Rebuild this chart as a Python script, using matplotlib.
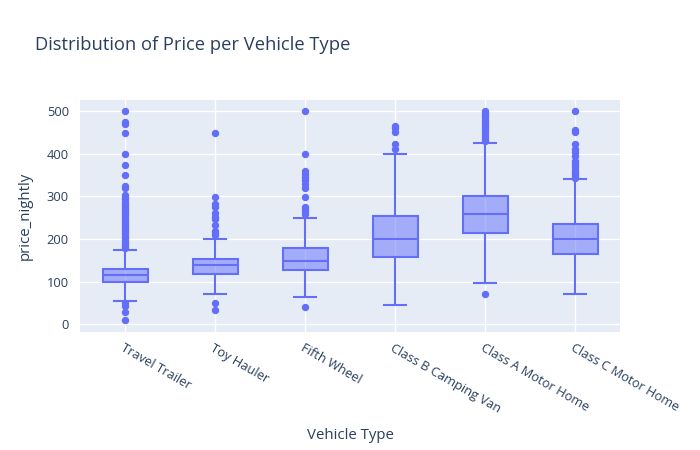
import matplotlib
matplotlib.use("Agg")
import matplotlib.pyplot as plt

plt.rcParams['font.family'] = ['Open Sans', 'DejaVu Sans']

# box statistics
vehicle_types = ["Travel Trailer", "Toy Hauler", "Fifth Wheel",
                 "Class B Camping Van", "Class A Motor Home", "Class C Motor Home"]
q1 = [99, 117, 127, 157, 215, 165]
median = [115, 139, 149, 200, 259, 199]
q3 = [130, 154, 180, 255, 301, 236]
whisker_low = [55, 70, 65, 45, 97, 70]
whisker_high = [175, 199, 249, 399, 425, 340]
outliers = [
    [500, 475, 469, 449, 399, 374, 349, 325, 319, 303, 298, 293, 288, 283, 278,
     273, 268, 263, 258, 253, 248, 243, 238, 233, 228, 223, 218, 213, 208, 203,
     198, 193, 188, 183, 178, 50, 44, 30, 9],
    [449, 299, 281, 276, 260, 252, 247, 233, 219, 213, 209, 50, 33],
    [500, 400, 359, 353, 346, 338, 330, 320, 299, 276, 270, 265, 259, 40],
    [465, 460, 450, 424, 411],
    [500, 495, 490, 485, 480, 475, 470, 465, 460, 455, 450, 445, 440, 435, 430, 70],
    [500, 455, 450, 424, 411, 403, 395, 383, 378, 373, 368, 363, 358, 353, 348,
     342],
]

blue = "#636efa"
text_col = "#2a3f5f"

stats = []
for i, name in enumerate(vehicle_types):
    stats.append(dict(label=name, q1=q1[i], med=median[i], q3=q3[i],
                      whislo=whisker_low[i], whishi=whisker_high[i],
                      fliers=outliers[i]))

fig = plt.figure(figsize=(7, 4.5), dpi=100)
ax = fig.add_axes([80 / 700, 118 / 450, 540 / 700, 232 / 450])
ax.set_facecolor("#E5ECF6")

ax.bxp(stats, positions=range(len(stats)), widths=0.5, capwidths=0.25,
       patch_artist=True,
       boxprops=dict(facecolor=(99 / 255, 110 / 255, 250 / 255, 0.5), edgecolor=blue, linewidth=1.5),
       medianprops=dict(color=blue, linewidth=1.5),
       whiskerprops=dict(color=blue, linewidth=1.5),
       capprops=dict(color=blue, linewidth=1.5),
       flierprops=dict(marker='o', markerfacecolor=blue, markeredgecolor=blue,
                       markersize=4.3, linestyle='none'))

ax.set_xlim(-0.5, 5.5)
ax.set_ylim(-18, 526)
ax.set_yticks([0, 100, 200, 300, 400, 500])
ax.grid(True, color="white", linewidth=1)
ax.set_axisbelow(True)
for s in ax.spines.values():
    s.set_visible(False)
ax.tick_params(length=0, colors=text_col, labelsize=9.3)
ax.tick_params(axis='y', pad=8)
ax.set_xticks(range(len(vehicle_types)))
ax.set_xticklabels(vehicle_types, rotation=-30, ha='left', va='top',
                   rotation_mode='anchor')
ax.tick_params(axis='x', pad=7)

ax.set_ylabel("price_nightly", color=text_col, fontsize=10.8, labelpad=10)
ax.set_xlabel("Vehicle Type", color=text_col, fontsize=10.8, labelpad=9)
fig.text(35 / 700, 1 - 45 / 450, "Distribution of Price per Vehicle Type",
         color=text_col, fontsize=13.2, va='center', ha='left')

fig.savefig("out.png", dpi=100)
